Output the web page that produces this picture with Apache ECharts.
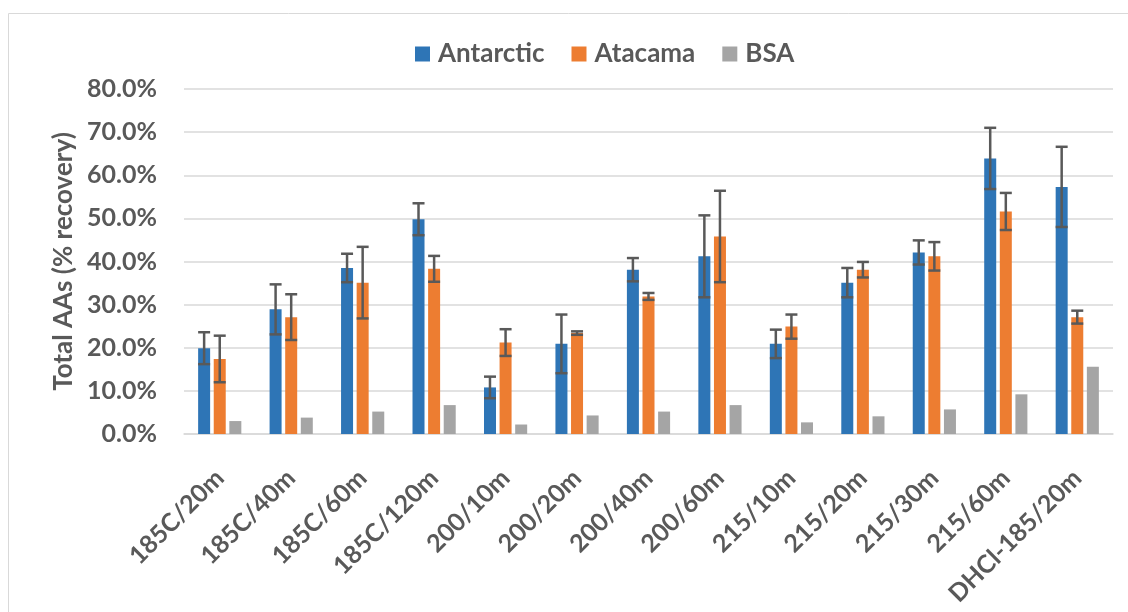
<!DOCTYPE html>
<html>
<head>
<meta charset="utf-8">
<script src="https://cdn.jsdelivr.net/npm/echarts@6/dist/echarts.min.js"></script>
<style>
  html, body { margin: 0; padding: 0; background: #fff; overflow: hidden; }
  #chart { width: 1128px; height: 612px; }
</style>
</head>
<body>
<div id="chart"></div>
<script>
var categories = ['185C/20m', '185C/40m', '185C/60m', '185C/120m', '200/10m', '200/20m', '200/40m',
  '200/60m', '215/10m', '215/20m', '215/30m', '215/60m', 'DHCl-185/20m']

// mean recovery, %
var antarctic = [19.9, 28.9, 38.5, 49.8, 10.8, 20.9, 38.1, 41.2, 20.9, 35.1, 42.1, 63.9, 57.3]
var atacama = [17.4, 27.1, 35.1, 38.3, 21.2, 23.4, 31.9, 45.8, 24.9, 38.1, 41.2, 51.6, 27.1]
var bsa = [3.0, 3.8, 5.2, 6.7, 2.2, 4.3, 5.2, 6.7, 2.7, 4.1, 5.7, 9.2, 15.6]

// error bar half-widths, %
var antarcticErr = [3.7, 5.8, 3.3, 3.7, 2.5, 6.8, 2.7, 9.5, 3.3, 3.4, 2.8, 7.1, 9.3]
var atacamaErr = [5.4, 5.3, 8.3, 3.0, 3.1, 0.4, 0.8, 10.6, 2.8, 1.8, 3.3, 4.3, 1.5]

var legendData = ['Antarctic', 'Atacama', 'BSA']
var color = ['#2E75B6', '#ED7D31', '#A5A5A5']
var textColor = '#595959'
var gridColor = '#D9D9D9'
var fontFamily = 'Lato, "Open Sans", sans-serif'

var barWidth = 12
var barGap = 0.3

var myChart = echarts.init(document.getElementById('chart'))

function errorSeries(mean, err, slot) {
  var data = mean.map(function (v, i) { return [i, v, err[i]] })
  return {
    type: 'custom',
    silent: true,
    z: 10,
    data: data,
    renderItem: function (params, api) {
      var idx = api.value(0)
      var v = api.value(1)
      var e = api.value(2)
      var hi = api.coord([idx, v + e])
      var lo = api.coord([idx, v - e])
      var off = (slot - 1) * barWidth * (1 + barGap)
      var x = hi[0] + off
      var half = barWidth / 2
      var style = { stroke: '#595959', lineWidth: 2.5 }
      return {
        type: 'group',
        children: [
          { type: 'line', shape: { x1: x, y1: hi[1], x2: x, y2: lo[1] }, style: style },
          { type: 'line', shape: { x1: x - half, y1: hi[1], x2: x + half, y2: hi[1] }, style: style },
          { type: 'line', shape: { x1: x - half, y1: lo[1], x2: x + half, y2: lo[1] }, style: style }
        ]
      }
    }
  }
}

var series = [antarctic, atacama, bsa].map(function (item, index) {
  return {
    name: legendData[index],
    type: 'bar',
    barWidth: barWidth,
    barGap: (barGap * 100) + '%',
    itemStyle: {
      color: color[index]
    },
    data: item
  }
})
series.push(errorSeries(antarctic, antarcticErr, 0))
series.push(errorSeries(atacama, atacamaErr, 1))

var option = {
  animation: false,
  textStyle: { fontFamily: fontFamily },
  graphic: [{
    type: 'rect',
    shape: { x: 8.5, y: 13.5, width: 1140, height: 640 },
    style: { fill: 'none', stroke: gridColor, lineWidth: 1 },
    silent: true
  }],
  legend: {
    data: legendData,
    top: 36,
    left: 410,
    itemWidth: 15,
    itemHeight: 15,
    itemGap: 27,
    icon: 'rect',
    textStyle: {
      color: textColor,
      fontSize: 26,
      fontWeight: 'bold',
      fontFamily: fontFamily,
      padding: [0, 0, 0, 3]
    }
  },
  grid: {
    left: 184,
    right: 15,
    top: 89,
    bottom: 178,
    containLabel: false
  },
  xAxis: {
    type: 'category',
    data: categories,
    axisTick: { show: false },
    axisLine: { lineStyle: { color: gridColor, width: 1.5 } },
    axisLabel: {
      rotate: 45,
      interval: 0,
      margin: 40,
      color: textColor,
      fontSize: 25,
      fontWeight: 'bold',
      fontFamily: fontFamily
    }
  },
  yAxis: {
    type: 'value',
    min: 0,
    max: 80,
    interval: 10,
    name: 'Total AAs (% recovery)',
    nameLocation: 'middle',
    nameGap: 106,
    nameTextStyle: {
      color: textColor,
      fontSize: 26,
      fontWeight: 'bold',
      fontFamily: fontFamily
    },
    axisLine: { show: false },
    axisTick: { show: false },
    axisLabel: {
      margin: 27,
      color: textColor,
      fontSize: 25,
      fontWeight: 'bold',
      fontFamily: fontFamily,
      formatter: function (v) { return v.toFixed(1) + '%' }
    },
    splitLine: { lineStyle: { color: gridColor, width: 1.5 } }
  },
  series: series
}

myChart.setOption(option)
</script>
</body>
</html>
